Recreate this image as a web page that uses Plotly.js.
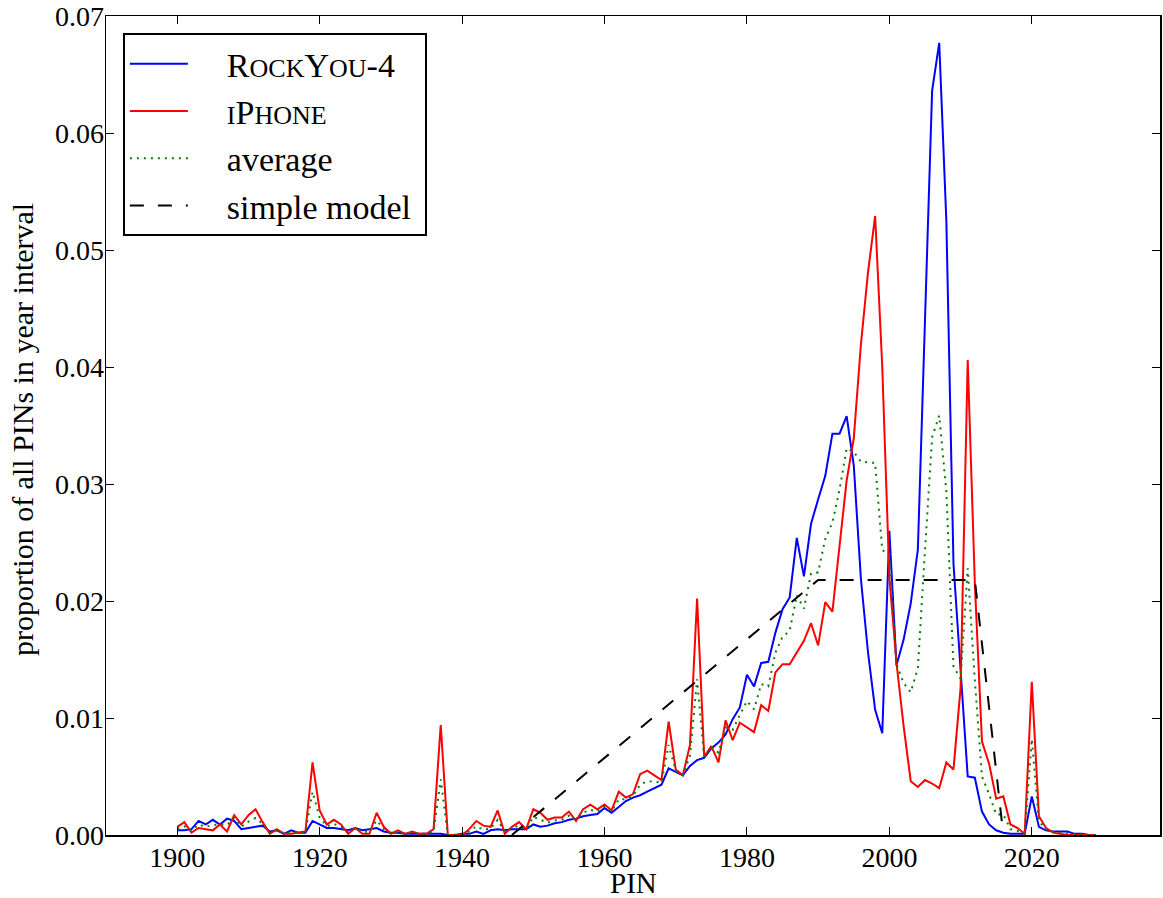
<!DOCTYPE html>
<html>
<head>
<meta charset="utf-8">
<script src="https://cdn.plot.ly/plotly-3.0.1.min.js"></script>
<style>
  html, body { margin: 0; padding: 0; background: #fff; }
  #chart { width: 1163px; height: 898px; }
</style>
</head>
<body>
<div id="chart"></div>
<script>
// Years 1900..2029
const years = [
  1900,1901,1902,1903,1904,1905,1906,1907,1908,1909,
  1910,1911,1912,1913,1914,1915,1916,1917,1918,1919,
  1920,1921,1922,1923,1924,1925,1926,1927,1928,1929,
  1930,1931,1932,1933,1934,1935,1936,1937,1938,1939,
  1940,1941,1942,1943,1944,1945,1946,1947,1948,1949,
  1950,1951,1952,1953,1954,1955,1956,1957,1958,1959,
  1960,1961,1962,1963,1964,1965,1966,1967,1968,1969,
  1970,1971,1972,1973,1974,1975,1976,1977,1978,1979,
  1980,1981,1982,1983,1984,1985,1986,1987,1988,1989,
  1990,1991,1992,1993,1994,1995,1996,1997,1998,1999,
  2000,2001,2002,2003,2004,2005,2006,2007,2008,2009,
  2010,2011,2012,2013,2014,2015,2016,2017,2018,2019,
  2020,2021,2022,2023,2024,2025,2026,2027,2028,2029
];

const rockyou = [
  0.0004,0.0004,0.0005,0.0012,0.0009,0.0013,0.0009,0.0014,0.0012,0.0005,
  0.0006,0.0007,0.0008,0.0003,0.0004,0.0001,0.0004,0.0002,0.0002,0.0012,
  0.0009,0.0006,0.0006,0.0005,0.0004,0.0006,0.0004,0.0005,0.0006,0.0003,
  0.0002,0.0002,0.0001,0.0001,0.0001,0.0001,0.0001,0.0001,0.0000,0.0000,
  0.0001,0.0001,0.0003,0.0001,0.0004,0.0005,0.0004,0.0005,0.0005,0.0005,
  0.0009,0.0007,0.0008,0.0010,0.0011,0.0013,0.0014,0.0016,0.0017,0.0018,
  0.0023,0.0019,0.0024,0.0029,0.0032,0.0034,0.0037,0.0040,0.0043,0.0057,
  0.0054,0.0051,0.0059,0.0064,0.0066,0.0074,0.0079,0.0086,0.0099,0.0109,
  0.0137,0.0127,0.0147,0.0148,0.0173,0.0193,0.0203,0.0254,0.0221,0.0266,
  0.0287,0.0307,0.0343,0.0343,0.0358,0.0316,0.0219,0.0156,0.0107,0.0087,
  0.0260,0.0145,0.0167,0.0198,0.0244,0.0440,0.0636,0.0677,0.0525,0.0232,
  0.0141,0.0050,0.0049,0.0020,0.0009,0.0004,0.0002,0.0001,0.0001,0.0001,
  0.0033,0.0007,0.0004,0.0003,0.0003,0.0003,0.0001,0.0001,0.0000,0.0000
];

const iphone = [
  0.0007,0.0011,0.0002,0.0006,0.0005,0.0004,0.0009,0.0003,0.0017,0.0009,
  0.0017,0.0022,0.0011,0.0001,0.0005,0.0001,0.0001,0.0002,0.0003,0.0062,
  0.0021,0.0009,0.0013,0.0009,0.0001,0.0006,0.0001,0.0001,0.0019,0.0007,
  0.0001,0.0004,0.0001,0.0003,0.0001,0.0001,0.0005,0.0094,0.0000,0.0000,
  0.0000,0.0005,0.0012,0.0008,0.0007,0.0021,0.0001,0.0007,0.0011,0.0005,
  0.0022,0.0019,0.0013,0.0015,0.0015,0.0020,0.0012,0.0022,0.0026,0.0022,
  0.0026,0.0021,0.0037,0.0032,0.0035,0.0052,0.0055,0.0051,0.0047,0.0097,
  0.0056,0.0051,0.0077,0.0202,0.0067,0.0076,0.0062,0.0098,0.0081,0.0096,
  0.0092,0.0088,0.0111,0.0106,0.0139,0.0146,0.0146,0.0156,0.0166,0.0181,
  0.0162,0.0199,0.0191,0.0247,0.0303,0.0339,0.0419,0.0481,0.0529,0.0400,
  0.0220,0.0147,0.0093,0.0046,0.0041,0.0047,0.0044,0.0040,0.0062,0.0056,
  0.0126,0.0406,0.0215,0.0080,0.0061,0.0031,0.0033,0.0009,0.0006,0.0001,
  0.0131,0.0016,0.0006,0.0002,0.0001,0.0000,0.0000,0.0000,0.0000,0.0000
];

const average = [
  0.00055,0.00075,0.00035,0.0009,0.0007,0.00085,0.0009,0.00085,0.00145,0.0007,
  0.00115,0.00145,0.00095,0.0002,0.00045,0.0001,0.00025,0.0002,0.00025,0.0037,
  0.0015,0.00075,0.00095,0.0007,0.00025,0.0006,0.00025,0.0003,0.00125,0.0005,
  0.00015,0.0003,0.0001,0.0002,0.0001,0.0001,0.0003,0.00475,0.0,0.0,
  0.00005,0.0003,0.00075,0.00045,0.00055,0.0013,0.00025,0.0006,0.0008,0.0005,
  0.00155,0.0013,0.00105,0.00125,0.0013,0.00165,0.0013,0.0019,0.00215,0.002,
  0.00245,0.002,0.00305,0.00305,0.00335,0.0043,0.0046,0.00455,0.0045,0.0077,
  0.0055,0.0051,0.0068,0.0133,0.00665,0.0075,0.00705,0.0092,0.009,0.01025,
  0.01145,0.01075,0.0129,0.0127,0.0156,0.01695,0.01745,0.0205,0.01935,0.02235,
  0.02245,0.0253,0.0267,0.0295,0.03305,0.03275,0.0319,0.03185,0.0318,0.02435,
  0.024,0.0146,0.013,0.0122,0.01425,0.02435,0.034,0.03585,0.02935,0.0144,
  0.01335,0.0228,0.0132,0.005,0.0035,0.00175,0.00175,0.0005,0.00035,0.0001,
  0.0082,0.00115,0.0005,0.00025,0.0002,0.00015,0.00005,0.00005,0.0,0.0
];

const modelYears = [1947, 1990, 2012, 2016];
const modelValues = [0.0, 0.0218, 0.0218, 0.0];

const xTickVals = [1900, 1920, 1940, 1960, 1980, 2000, 2020];
const yTickVals = [0.00, 0.01, 0.02, 0.03, 0.04, 0.05, 0.06, 0.07];

const GAP = "\u00A0\u00A0\u00A0\u00A0";
const SC = "font-size:26px";
const seriesNames = [
  GAP + "R<span style=\"" + SC + "\">OCK</span>Y<span style=\"" + SC + "\">OU</span>-4",
  GAP + "<span style=\"" + SC + "\">I</span>P<span style=\"" + SC + "\">HONE</span>",
  GAP + "average",
  GAP + "simple model\u00A0"
];
const xTitle = "PIN";
const yTitle = "proportion of all PINs in year interval";

const FONT = "Liberation Serif, Times New Roman, serif";

const traces = [
  { x: years, y: rockyou, name: seriesNames[0], type: "scatter", mode: "lines",
    line: { color: "#0000ff", width: 2 } },
  { x: years, y: iphone, name: seriesNames[1], type: "scatter", mode: "lines",
    line: { color: "#ff0000", width: 2 } },
  { x: years, y: average, name: seriesNames[2], type: "scatter", mode: "lines",
    line: { color: "#008000", width: 2, dash: "2px,5px" } },
  { x: modelYears, y: modelValues, name: seriesNames[3], type: "scatter", mode: "lines",
    line: { color: "#000000", width: 2, dash: "14px,14px" } }
];

const axisCommon = {
  showline: true, linecolor: "#000", linewidth: 1.5, mirror: "ticks",
  ticks: "inside", ticklen: 8, tickwidth: 1, tickcolor: "#000",
  showgrid: false, zeroline: false,
  tickfont: { family: FONT, size: 28, color: "#000" }
};

const layout = {
  width: 1163, height: 898,
  paper_bgcolor: "#fff", plot_bgcolor: "#fff",
  margin: { l: 106, r: 3, t: 16, b: 63, pad: 0 },
  font: { family: FONT, color: "#000" },
  showlegend: true,
  xaxis: Object.assign({}, axisCommon, {
    range: [1890, 2038], tickvals: xTickVals, ticktext: xTickVals.map(String),
    ticklabelstandoff: -3
  }),
  yaxis: Object.assign({}, axisCommon, {
    range: [0, 0.07], tickvals: yTickVals, tickformat: ".2f",
    ticklabelstandoff: -5
  }),
  annotations: [
    { text: xTitle, xref: "paper", yref: "paper", x: 0.5, y: -0.0586,
      xanchor: "center", yanchor: "middle", showarrow: false,
      font: { family: FONT, size: 29, color: "#000" } },
    { text: yTitle, xref: "paper", yref: "paper", x: -0.0797, y: 0.4957,
      xanchor: "center", yanchor: "middle", showarrow: false, textangle: -90,
      font: { family: FONT, size: 30, color: "#000" } }
  ],
  legend: {
    x: 0.016, y: 0.979, xanchor: "left", yanchor: "top",
    bgcolor: "#fff", bordercolor: "#000", borderwidth: 2,
    font: { family: FONT, size: 34, color: "#000" },
    itemwidth: 58, tracegroupgap: 0
  }
};

Plotly.newPlot("chart", traces, layout, { displayModeBar: false, staticPlot: true });
</script>
</body>
</html>
